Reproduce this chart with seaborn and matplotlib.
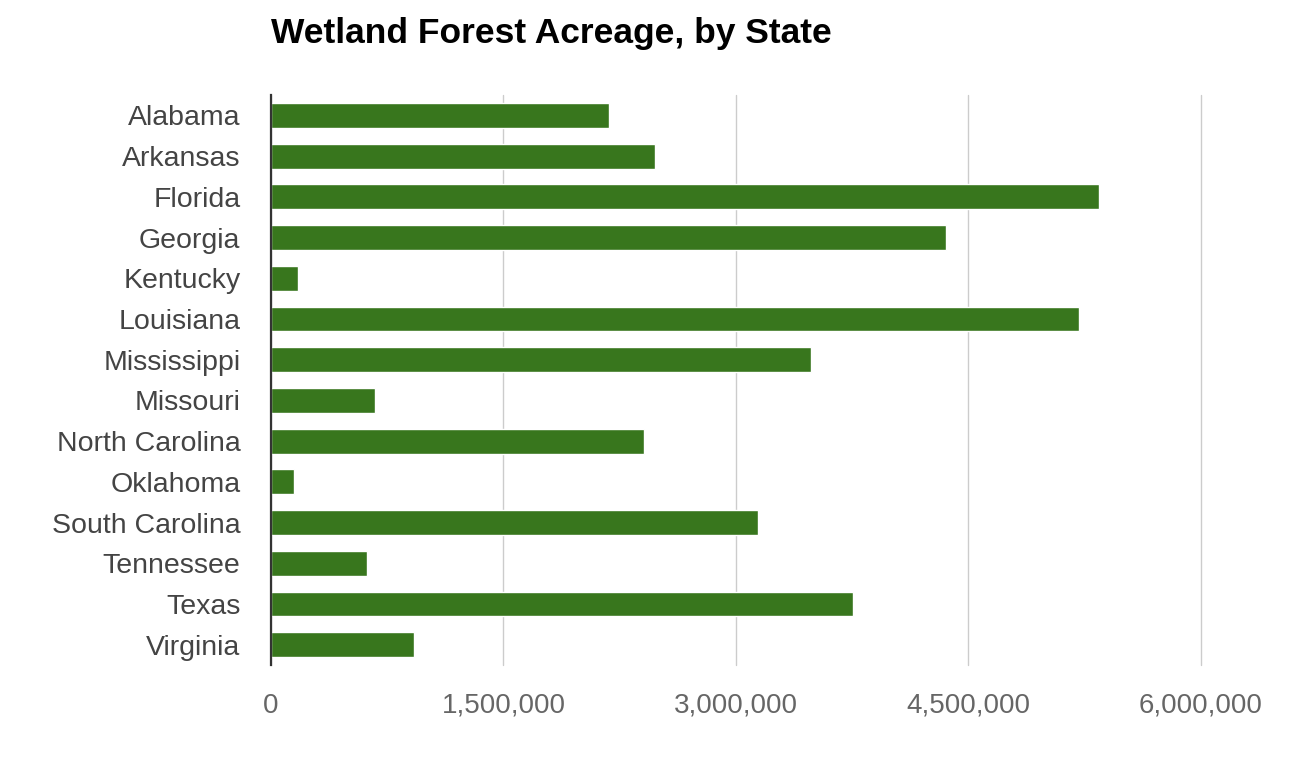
import pandas as pd
import matplotlib.pyplot as plt
import seaborn as sns
from matplotlib.ticker import FuncFormatter

# Wetland forest acreage
states = ["Alabama", "Arkansas", "Florida", "Georgia", "Kentucky", "Louisiana",
          "Mississippi", "Missouri", "North Carolina", "Oklahoma",
          "South Carolina", "Tennessee", "Texas", "Virginia"]
acres = [2180000, 2480000, 5340000, 4355000, 175000, 5215000,
         3485000, 670000, 2405000, 148000,
         3142000, 620000, 3755000, 925000]
xticks = [0, 1500000, 3000000, 4500000, 6000000]

data = pd.DataFrame({"State": states, "Acres": acres})

sns.set_style("white")
plt.rcParams["font.family"] = ["Liberation Sans", "DejaVu Sans"]

fig = plt.figure(figsize=(12.94, 7.65), dpi=100)
ax = fig.add_axes([0.2094, 0.1307, 0.7187, 0.745])

sns.barplot(data=data, x="Acres", y="State", color="#38761d", width=0.61,
            saturation=1, ax=ax, zorder=3)

ax.set_xlim(0, 6000000)
ax.set_xticks(xticks)
ax.xaxis.set_major_formatter(FuncFormatter(lambda v, p: f"{int(v):,}"))
ax.grid(axis="x", color="#cccccc", linewidth=1, zorder=0)
for gl in ax.get_xgridlines():
    gl.set_clip_on(False)
ax.set_axisbelow(True)

for s in ["top", "right", "bottom"]:
    ax.spines[s].set_visible(False)
ax.spines["left"].set_color("#333333")
ax.spines["left"].set_linewidth(1.6)
ax.spines["left"].set_zorder(5)

ax.tick_params(axis="y", length=0, pad=22, labelsize=20.5, labelcolor="#444444")
ax.tick_params(axis="x", length=0, pad=20, labelsize=20, labelcolor="#666666")
ax.set_xlabel("")
ax.set_ylabel("")

fig.text(0.2094, 1 - 43 / 765, "Wetland Forest Acreage, by State", fontsize=25.5,
         fontweight="bold", color="#000000", ha="left", va="baseline")

fig.savefig("out.png", dpi=100, facecolor="white")
